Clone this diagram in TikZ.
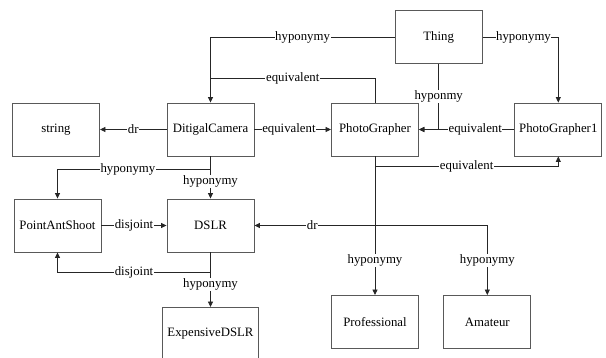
\documentclass[tikz,border=0pt]{standalone}
\usepackage{fontspec}
\setmainfont{Liberation Serif}
\usepackage{tikz}
\usetikzlibrary{arrows.meta,positioning}

\begin{document}
\begin{tikzpicture}[x=1pt,y=-1pt,
    box/.style={draw=black!65,line width=0.9pt,minimum width=87pt,minimum height=53pt,
      inner sep=2pt,font=\fontsize{12.8}{15}\selectfont},
    arr/.style={draw=black!85,line width=0.8pt,-{Triangle[length=5.5pt,width=5pt]}},
    link/.style={draw=black!85,line width=0.8pt},
    lbl/.style={fill=white,inner sep=0.6pt,font=\fontsize{12.8}{15}\selectfont}]
  \clip (0,0) rectangle (606,358);

  % classes
  \node[box] (thing) at (438.7,37) {Thing};
  \node[box] (str) at (56,129.5) {string};
  \node[box] (dcam) at (210.5,129.5) {DitigalCamera};
  \node[box] (pg) at (375,129.5) {PhotoGrapher};
  \node[box] (pg1) at (558.3,129.5) {PhotoGrapher1};
  \node[box] (pas) at (57.5,225.5) {PointAntShoot};
  \node[box] (dslr) at (210.5,225.5) {DSLR};
  \node[box,minimum width=96pt] (exp) at (210.5,334) {ExpensiveDSLR};
  \node[box] (prof) at (375,322) {Professional};
  \node[box] (ama) at (487.3,322) {Amateur};

  % junction points
  \coordinate (eqtop) at (210.5,78);
  \coordinate (split) at (pg.south |- dslr.east);

  % relations
  \draw[arr] (thing.west) -| node[lbl,pos=0.25] {hyponymy} (dcam.north);
  \draw[link] (pg.north) |- node[lbl,pos=0.75] {equivalent} (eqtop);
  \draw[arr] (thing.east) -| node[lbl,pos=0.27] {hyponymy} (pg1.north);
  \draw[arr] (thing.south) |- node[lbl,pos=0.25] {hyponmy} (pg.east);
  \draw[arr] (pg1.west) -- node[lbl,pos=0.41] {equivalent} (pg.east);
  \draw[arr] (dcam.west) -- node[lbl] {dr} (str.east);
  \draw[arr] (dcam.east) -- node[lbl,pos=0.45] {equivalent} (pg.west);
  \draw[arr] (pg.south) -- ++(0,10) -| node[lbl,pos=0.25] {equivalent} (pg1.south);
  \draw[arr] (dcam.south) -- ++(0,13) -| node[lbl,pos=0.27] {hyponymy} (pas.north);
  \draw[arr] (dcam.south) -- node[lbl,pos=0.6] {hyponymy} (dslr.north);
  \draw[arr] (pas.east) -- node[lbl] {disjoint} (dslr.west);
  \draw[arr] (dslr.south) -- ++(0,20) -| node[lbl,pos=0.25] {disjoint} (pas.south);
  \draw[arr] (dslr.south) -- node[lbl,pos=0.59] {hyponymy} (exp.north);
  \draw[arr] (pg.south) |- node[lbl,pos=0.76] {dr} (dslr.east);
  \draw[arr] (pg.south) -- node[lbl,pos=0.75] {hyponymy} (prof.north);
  \draw[arr] (split) -| node[lbl,pos=0.75] {hyponymy} (ama.north);
\end{tikzpicture}
\end{document}
